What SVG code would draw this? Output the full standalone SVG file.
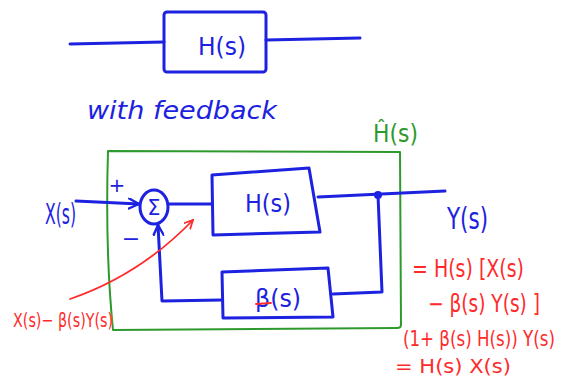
<svg xmlns="http://www.w3.org/2000/svg" width="564" height="379" viewBox="0 0 564 379">
  <style>
    .b { fill: none; stroke: #1c22e0; stroke-width: 3; stroke-linecap: round; stroke-linejoin: round; }
    .g { fill: none; stroke: #2e9a2e; stroke-width: 2; stroke-linejoin: round; }
    .r { fill: none; stroke: #ff2a2a; stroke-width: 1.8; stroke-linecap: round; }
    .tb { fill: #1c22e0; font-family: "DejaVu Sans", "Liberation Sans", sans-serif; }
    .tr { fill: #ff2a2a; font-family: "DejaVu Sans", "Liberation Sans", sans-serif; }
    .tg { fill: #2e9a2e; font-family: "DejaVu Sans", "Liberation Sans", sans-serif; }
  </style>
  <defs>
    <marker id="arrBig" viewBox="0 0 12 12" refX="11" refY="6" markerWidth="12" markerHeight="12" orient="auto" markerUnits="userSpaceOnUse">
      <path d="M1,1 L11,6 L1,11" fill="none" stroke="#1c22e0" stroke-width="2.4" stroke-linecap="round"/>
    </marker>
    <marker id="arrR" viewBox="0 0 10 10" refX="9" refY="5" markerWidth="10" markerHeight="10" orient="auto" markerUnits="userSpaceOnUse">
      <path d="M1,1 L9,5 L1,9" fill="none" stroke="#ff2a2a" stroke-width="1.8" stroke-linecap="round"/>
    </marker>
  </defs>

  <!-- open-loop block -->
  <g id="open-loop">
    <rect class="b" x="164" y="12" width="102" height="60" rx="3"/>
    <text class="tb" x="198" y="55" font-size="24" textLength="48" lengthAdjust="spacingAndGlyphs">H(s)</text>
  </g>

  <text class="tb" x="87" y="119" font-size="24" font-style="italic" textLength="190" lengthAdjust="spacingAndGlyphs">with feedback</text>

  <!-- closed-loop enclosure -->
  <g id="closed-loop">
    <path class="g" d="M108,151 L400,152 L401,325 Q401,328 397,328 L113,330 Q105,250 108,151 Z"/>
    <text class="tg" x="373" y="142" font-size="24" textLength="45" lengthAdjust="spacingAndGlyphs">Ĥ(s)</text>
  </g>

  <g id="sum">
    <ellipse class="b" cx="154" cy="207" rx="14" ry="17"/>
    <text class="tb" x="154" y="215" font-size="21" text-anchor="middle">Σ</text>
    <text class="tb" x="117" y="192" font-size="20" text-anchor="middle">+</text>
    <text class="tb" x="131" y="246" font-size="22" text-anchor="middle">−</text>
  </g>

  <g id="plant">
    <path class="b" d="M212,175 L309,168 L320,232 L213,235 Z"/>
    <text class="tb" x="245" y="212" font-size="24" textLength="46" lengthAdjust="spacingAndGlyphs">H(s)</text>
  </g>

  <g id="feedback">
    <path class="b" d="M222,272 L328,268 L333,317 L223,318 Z"/>
    <text class="tb" x="255" y="307" font-size="24" textLength="46" lengthAdjust="spacingAndGlyphs">β(s)</text>
    <line class="r" x1="256" y1="304" x2="271" y2="303"/>
  </g>

  <g id="input-label">
    <text class="tb" x="45" y="224" font-size="28" textLength="31" lengthAdjust="spacingAndGlyphs">X(s)</text>
  </g>
  <g id="output-label">
    <text class="tb" x="447" y="229" font-size="30" textLength="41" lengthAdjust="spacingAndGlyphs">Y(s)</text>
  </g>

  <!-- connectors -->
  <g id="connectors">
    <line class="b" x1="70" y1="44" x2="164" y2="42"/>
    <line class="b" x1="266" y1="40" x2="360" y2="38"/>
    <path class="b" d="M76,201 L139,204" marker-end="url(#arrBig)"/>
    <line class="b" x1="168" y1="204" x2="212" y2="204"/>
    <path class="b" d="M318,197 L445,191"/>
    <circle cx="378" cy="195" r="4" fill="#1c22e0"/>
    <path class="b" d="M378,195 L382,292 L333,294"/>
    <path class="b" d="M222,300 L162,301 L158,225" marker-end="url(#arrBig)"/>
    <!-- annotation arrow -->
    <path class="r" d="M70,299 Q140,275 193,220" marker-end="url(#arrR)"/>
  </g>

  <!-- red derivation, horizontally condensed like the handwriting -->
  <g id="annotations">
    <text class="tr" transform="translate(13,327) scale(0.7,1)" font-size="20" textLength="143" lengthAdjust="spacingAndGlyphs">X(s)− β(s)Y(s)</text>
    <text class="tr" transform="translate(412,277) scale(0.7,1)" font-size="24" textLength="160" lengthAdjust="spacingAndGlyphs">= H(s) [X(s)</text>
    <text class="tr" transform="translate(428,312) scale(0.7,1)" font-size="24" textLength="160" lengthAdjust="spacingAndGlyphs">− β(s) Y(s) ]</text>
    <text class="tr" transform="translate(403,346) scale(0.7,1)" font-size="22" textLength="217" lengthAdjust="spacingAndGlyphs">(1+ β(s) H(s)) Y(s)</text>
    <text class="tr" transform="translate(395,373) scale(0.8,1)" font-size="20" textLength="145" lengthAdjust="spacingAndGlyphs">= H(s) X(s)</text>
  </g>
</svg>
